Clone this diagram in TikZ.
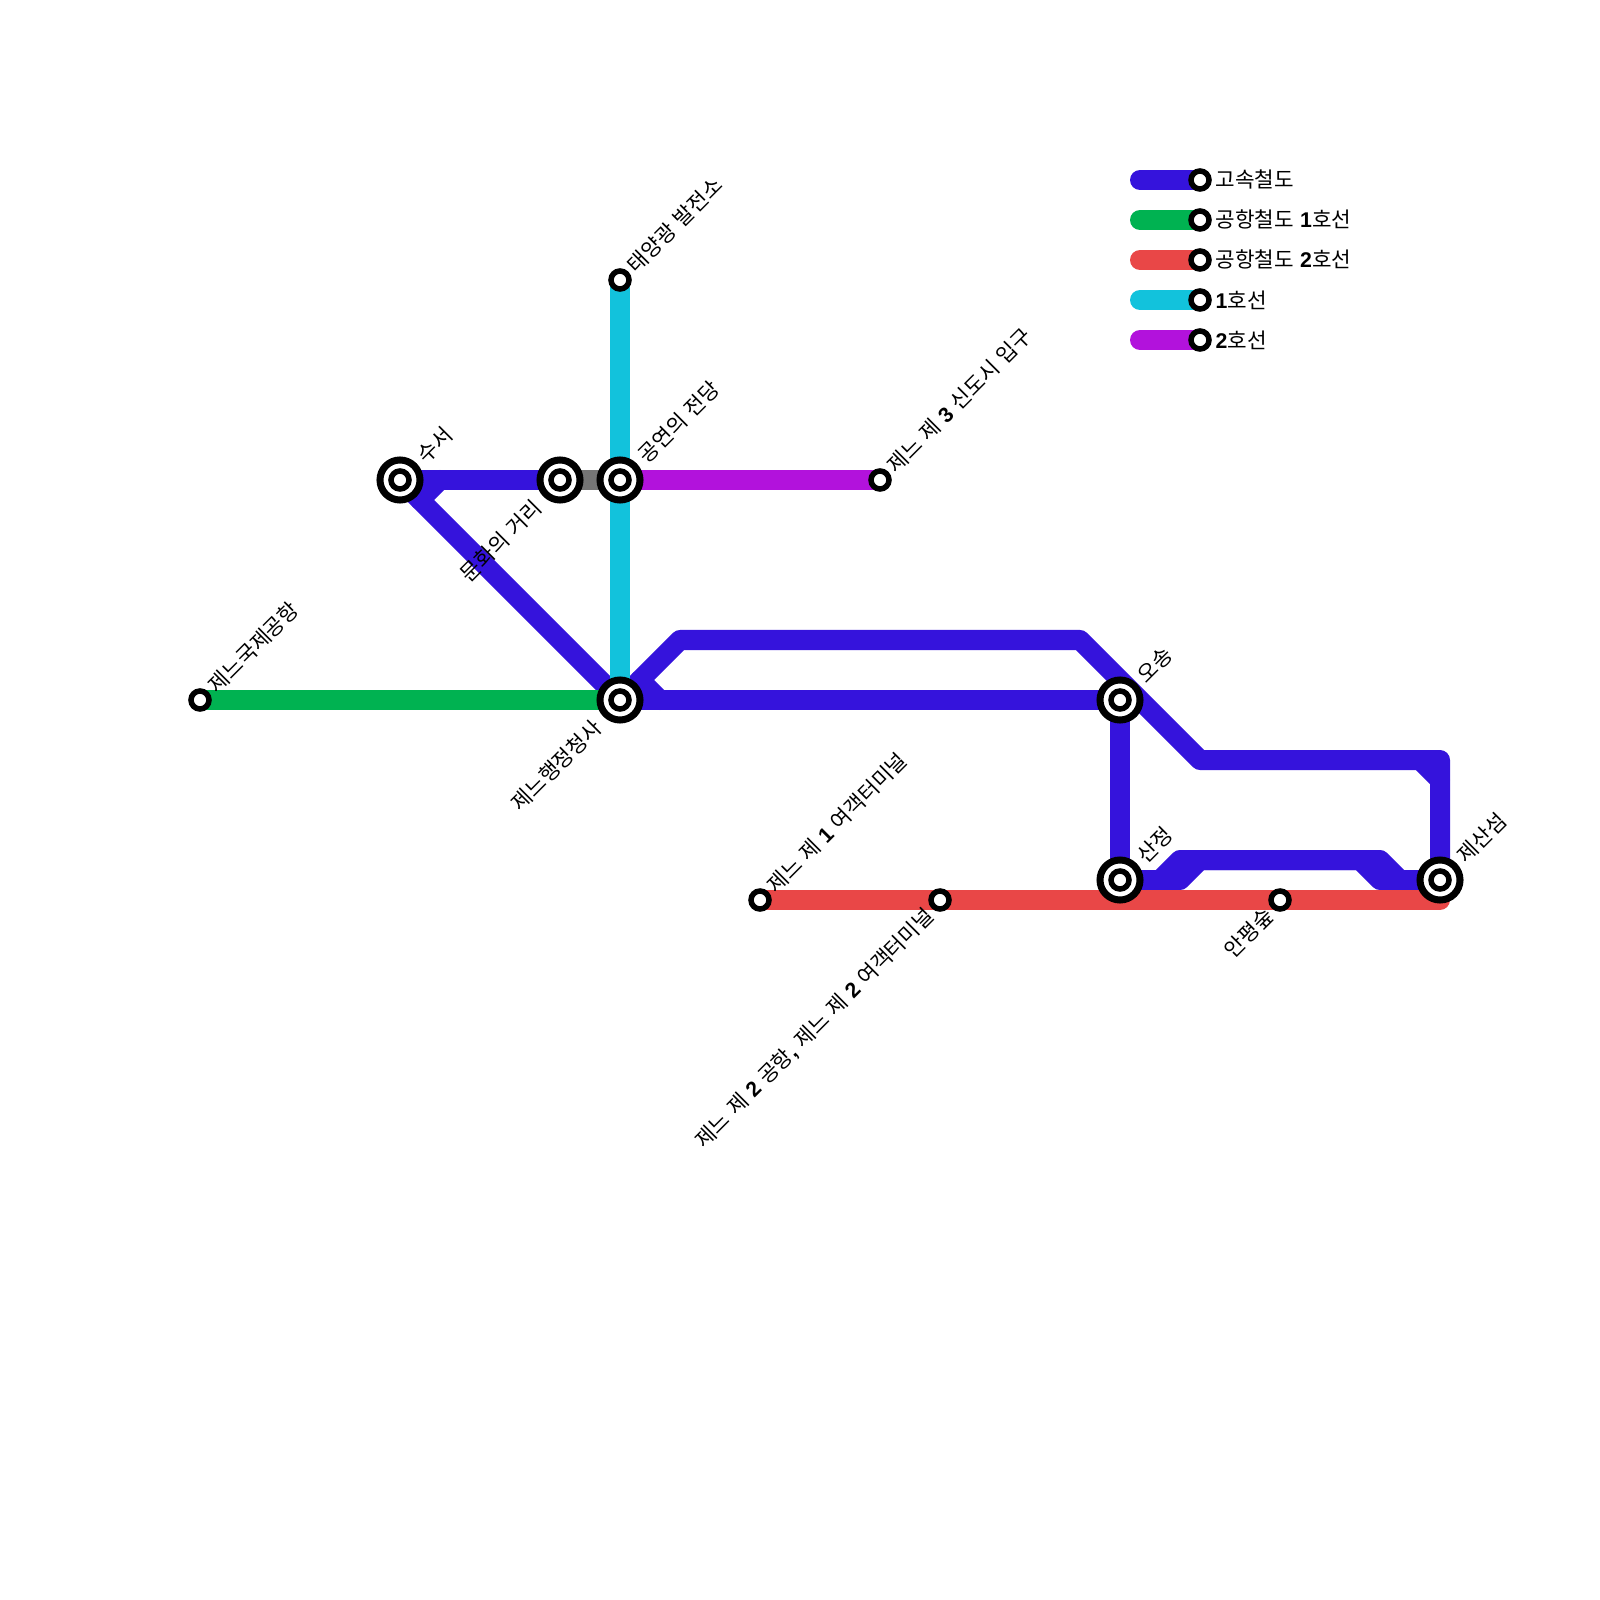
\documentclass[tikz,border=0pt]{standalone}
\usepackage{fontspec}
\setmainfont{Noto Sans CJK KR}[WordSpace=1.3]
\newfontfamily\numfont{Liberation Sans}
\newcommand{\numb}[1]{{\numfont\bfseries #1}}
\usetikzlibrary{backgrounds}
\definecolor{rtblue}{HTML}{3513DC}
\definecolor{rtgreen}{HTML}{00B251}
\definecolor{rtred}{HTML}{E94747}
\definecolor{rtcyan}{HTML}{12C2DC}
\definecolor{rtpurple}{HTML}{B212DC}
\definecolor{rtgray}{HTML}{757575}
\tikzset{
  route/.style={line width=0.2cm,line cap=round,line join=round},
  stn/.style={circle,draw=black,fill=white,line width=0.055cm,minimum size=0.18cm,inner sep=0pt},
  intstn/.style={circle,draw=black,fill=white,line width=0.07cm,minimum size=0.4cm,inner sep=0pt},
  lbl/.style={font=\fontsize{6.05}{7}\selectfont,inner sep=0pt,rotate=45},
  lblup/.style={lbl,anchor=base west},
  lbldown/.style={lbl,anchor=base east},
  keytxt/.style={font=\fontsize{6.05}{7}\selectfont,inner sep=0pt,anchor=base west}
}
\begin{document}
\begin{tikzpicture}[x=0.01cm,y=-0.01cm]
    \useasboundingbox (0,0) rectangle (1600,1600);
    % stations
    \foreach \n/\x/\y in {suseo/400/480,munhwa/560/480,gongyeon/620/480,haengjeong/620/700,osong/1120/700,sanjeong/1120/880,jesan/1440/880} {
      \node[intstn] (\n) at (\x,\y) {};
      \node[stn] (\n-in) at (\x,\y) {};
    }
    \foreach \n/\x/\y in {airport/200/700,solar/620/280,newtown/880/480,termone/760/900,termtwo/940/900,anpyeong/1280/900}
      \node[stn] (\n) at (\x,\y) {};
    % bends
    \foreach \n/\x/\y in {a/420/500,b/440/480,c/640/680,d/660/700,e/680/640,f/1080/640,g/1200/760,h/1440/760,i/1420/760,j/1440/780,
                          k/1160/880,l/1180/860,m/1380/860,o/1400/880,p/1180/880,q/1200/860,r/1360/860,s/1380/880,t/1440/900}
      \coordinate (\n) at (\x,\y);
    \begin{scope}[on background layer]
      \draw[route,rtblue] (suseo.center)--(munhwa.center);
      \draw[route,rtblue] (suseo.center)--(haengjeong.center);
      \draw[route,rtblue] (a)--(b);
      \draw[route,rtblue] (haengjeong.center)--(e)--(f)--(g)--(h)--(jesan.center);
      \draw[route,rtblue] (i)--(j);
      \draw[route,rtblue] (haengjeong.center)--(osong.center);
      \draw[route,rtblue] (c)--(d);
      \draw[route,rtblue] (osong.center)--(sanjeong.center);
      \draw[route,rtblue] (sanjeong.center)--(k)--(l)--(m)--(o)--(jesan.center);
      \draw[route,rtblue] (sanjeong.center)--(p)--(q)--(r)--(s)--(jesan.center);
      \draw[route,rtred] (termone.center)--(t)--(jesan.center);
      \draw[route,rtgreen] (airport.center)--(haengjeong.center);
      \draw[route,rtcyan] (solar.center)--(haengjeong.center);
      \draw[route,rtpurple] (gongyeon.center)--(newtown.center);
      \draw[route,rtgray] (munhwa.center)--(gongyeon.center);
    \end{scope}
    % station names
    \node[lblup] (suseo-t) at (426,465) {수서};
    \node[lblup] (gongyeon-t) at (647,465) {공연의 전당};
    \node[lblup] (osong-t) at (1146,685) {오송};
    \node[lblup] (sanjeong-t) at (1146,865) {산정};
    \node[lblup] (jesan-t) at (1466,865) {제산섬};
    \node[lblup] (airport-t) at (217,695) {제느국제공항};
    \node[lblup] (solar-t) at (636,275) {태양광 발전소};
    \node[lblup] (newtown-t) at (896,475) {제느 제 \numb{3} 신도시 입구};
    \node[lblup] (termone-t) at (776,895) {제느 제 \numb{1} 여객터미널};
    \node[lbldown] (munhwa-t) at (544,509) {문화의 거리};
    \node[lbldown] (haengjeong-t) at (604,729) {제느행정청사};
    \node[lbldown] (termtwo-t) at (936,917) {제느 제 \numb{2} 공항\numb{,} 제느 제 \numb{2} 여객터미널};
    \node[lbldown] (anpyeong-t) at (1276,917) {안평숲};
    % legend
    \foreach \n/\c/\y/\t in {exp/rtblue/180/{고속철도},aone/rtgreen/220/{공항철도 \numb{1}호선},atwo/rtred/260/{공항철도 \numb{2}호선},lone/rtcyan/300/{\numb{1}호선},ltwo/rtpurple/340/{\numb{2}호선}} {
      \node[stn] (\n) at (1200,\y) {};
      \coordinate (\n-end) at (1140,\y);
      \begin{scope}[on background layer]
        \draw[route,\c] (\n-end)--(\n.center);
      \end{scope}
      \node[keytxt] (\n-t) at (1215,\y+8) {\t};
    }
\end{tikzpicture}
\end{document}
